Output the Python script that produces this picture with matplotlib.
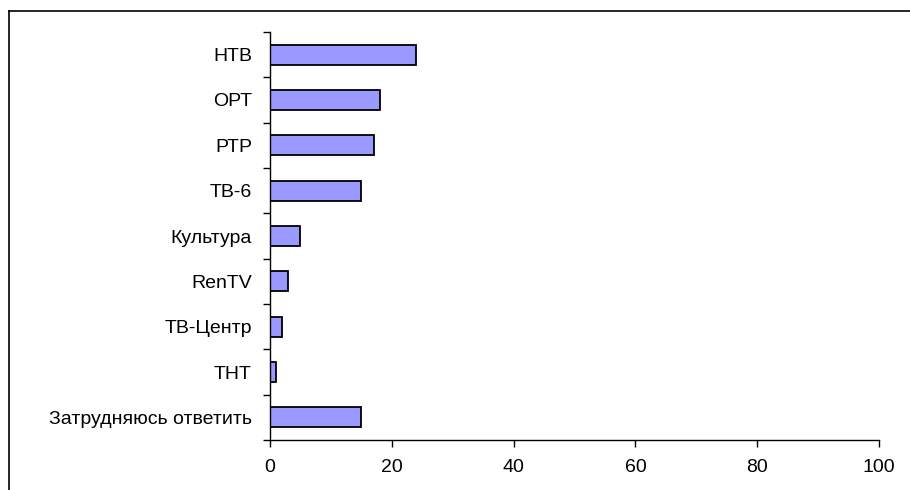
import matplotlib
matplotlib.use("Agg")
import matplotlib.pyplot as plt
from matplotlib.lines import Line2D
from matplotlib.ticker import FixedLocator, NullFormatter

categories = ["НТВ", "ОРТ", "РТР", "ТВ-6", "Культура", "RenTV", "ТВ-Центр", "ТНТ",
              "Затрудняюсь ответить"]
values = [24, 18, 17, 15, 5, 3, 2, 1, 15]
x_ticks = [0, 20, 40, 60, 80, 100]

plt.rcParams['font.family'] = ['Liberation Sans', 'DejaVu Sans']

fig = plt.figure(figsize=(9.1, 4.9), dpi=100)
ax = fig.add_axes([270/910, 1 - 440/490, (879-270)/910, (440-32)/490])

n = len(categories)
ypos = list(range(n))
ax.barh(ypos, values, height=0.44, color="#9999FF", edgecolor="black", linewidth=1.3)
ax.set_ylim(n - 0.5, -0.5)
ax.set_xlim(0, 100)
ax.set_xticks(x_ticks)
ax.set_yticks(ypos)
ax.set_yticklabels(categories)
ax.yaxis.set_minor_locator(FixedLocator([i - 0.5 for i in range(n + 1)]))
ax.yaxis.set_minor_formatter(NullFormatter())
ax.tick_params(axis='y', which='major', length=0, pad=13, labelsize=14)
ax.tick_params(axis='y', which='minor', length=5, width=1, direction='out', color='black')
ax.tick_params(axis='x', length=5, width=1, direction='out', labelsize=14, pad=9, color='black')
for s in ['top', 'right']:
    ax.spines[s].set_visible(False)
for s in ['left', 'bottom']:
    ax.spines[s].set_linewidth(1)
    ax.spines[s].set_color('black')

# chart-area border (top and left visible)
fig.add_artist(Line2D([9/910, 1.0], [1 - 11/490, 1 - 11/490], color='black', linewidth=1.2,
                      transform=fig.transFigure))
fig.add_artist(Line2D([9/910, 9/910], [0.0, 1 - 11/490], color='black', linewidth=1.2,
                      transform=fig.transFigure))

fig.savefig("out.png", dpi=100)
